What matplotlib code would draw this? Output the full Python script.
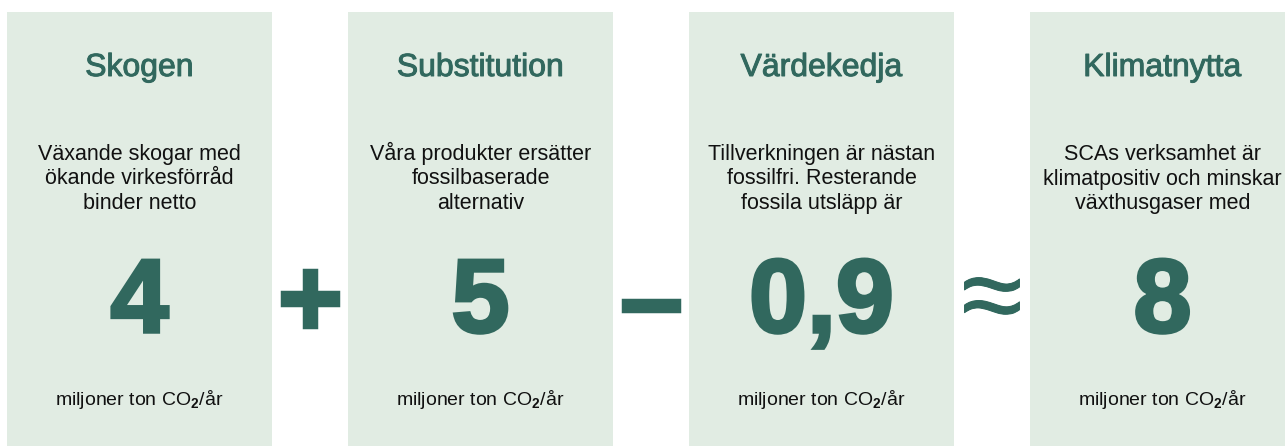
import matplotlib

matplotlib.use("Agg")
import matplotlib.pyplot as plt
from matplotlib.patches import Rectangle
import matplotlib.patheffects as pe

# content of the four panels
titles = ["Skogen", "Substitution", "Värdekedja", "Klimatnytta"]
descriptions = [
    ["Växande skogar med", "ökande virkesförråd", "binder netto"],
    ["Våra produkter ersätter", "fossilbaserade", "alternativ"],
    ["Tillverkningen är nästan", "fossilfri. Resterande", "fossila utsläpp är"],
    ["SCAs verksamhet är", "klimatpositiv och minskar", "växthusgaser med"],
]
values = ["4", "5", "0,9", "8"]
operators = ["+", "–", "≈"]
unit = "miljoner ton CO$_\\mathbf{2}$/år"

GREEN = "#31685e"
PANEL = "#e1ece3"
TEXT = "#111111"

plt.rcParams["font.family"] = ["Liberation Sans", "DejaVu Sans"]
plt.rcParams["mathtext.fontset"] = "custom"
plt.rcParams["mathtext.rm"] = "Liberation Sans"
plt.rcParams["mathtext.bf"] = "Liberation Sans:bold"

fig = plt.figure(figsize=(12.85, 4.46), dpi=100)
ax = fig.add_axes([0, 0, 1, 1])
ax.set_xlim(0, 1285)
ax.set_ylim(446, 0)
ax.axis("off")

left, width, step = 7, 265, 341
heavy = [pe.withStroke(linewidth=2.5, foreground=GREEN, joinstyle="miter")]
medium = [pe.withStroke(linewidth=0.7, foreground=GREEN)]

for i, title in enumerate(titles):
    x0 = left + i * step
    cx = x0 + width / 2
    ax.add_patch(Rectangle((x0, 12), width, 450, color=PANEL, lw=0))
    ax.text(cx, 76, title, ha="center", va="baseline", fontsize=23,
            color=GREEN, path_effects=medium)
    for j, line in enumerate(descriptions[i]):
        ax.text(cx, 160 + j * 24.5, line, ha="center", va="baseline",
                fontsize=15.5, color=TEXT)
    ax.text(cx, 332, values[i], ha="center", va="baseline", fontsize=75,
            color=GREEN, fontweight="bold", path_effects=heavy)
    ax.text(cx, 405, unit, ha="center", va="baseline", fontsize=14,
            color=TEXT)

for i, op in enumerate(operators):
    gx = left + width + i * step + (step - width) / 2
    if op == "≈":
        ax.text(gx, 292, op, ha="center", va="center_baseline", fontsize=80,
                color=GREEN, path_effects=medium)
    else:
        ax.text(gx, 295, op, ha="center", va="center_baseline", fontsize=80,
                color=GREEN, fontweight="bold", path_effects=heavy)

fig.savefig("out.png", dpi=100, facecolor="white")
